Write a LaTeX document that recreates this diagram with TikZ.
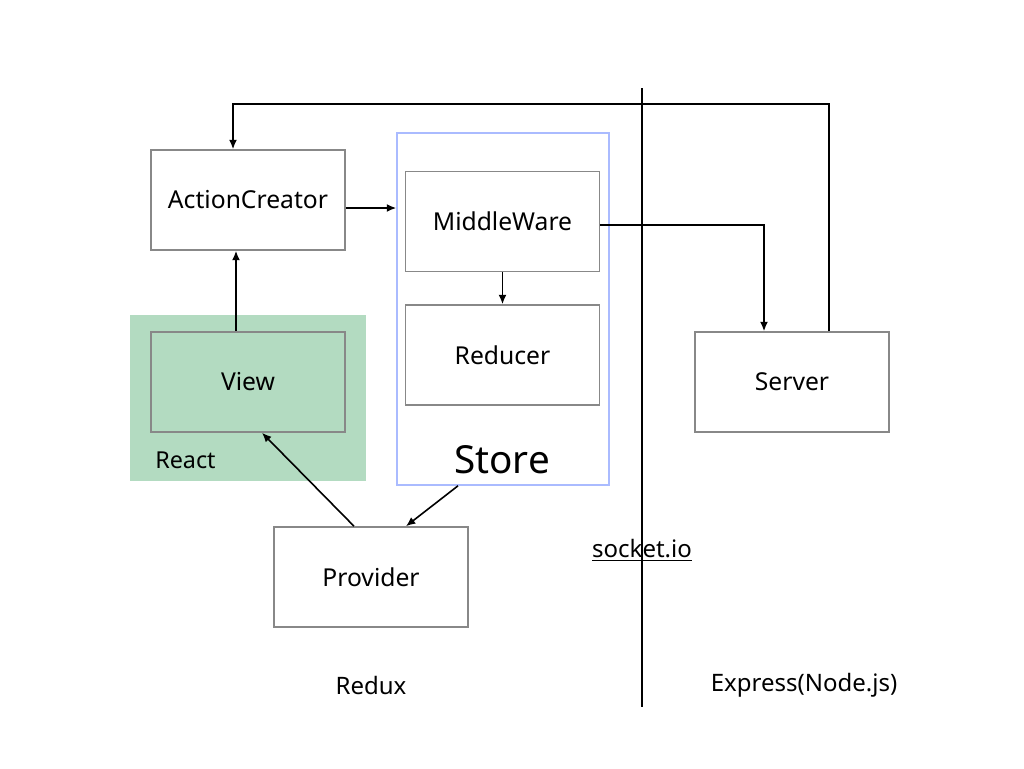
\documentclass[tikz,border=0pt]{standalone}
\usepackage{fontspec}
\setmainfont{Noto Sans}
\usetikzlibrary{
    arrows.meta,
    calc
}
\definecolor{boxgray}{HTML}{888888}
\definecolor{reactgreen}{HTML}{B3DBC1}
\definecolor{storeblue}{HTML}{AABBFF}
\tikzset {
    block/.style = {draw = boxgray, line width = 1.2pt, fill = white,
        minimum width = 145.5pt, minimum height = 75pt, inner sep = 0pt,
        font = \fontsize{18.5}{22}\selectfont},
    group/.style = {inner sep = 0pt},
    label text/.style = {inner sep = 0pt, font = \fontsize{18}{21}\selectfont},
    flow/.style = {line width = 1.2pt, arrows = {-Latex[length = 7pt, width = 6pt]}},
    wire/.style = {line width = 1.2pt}
}
\begin{document}
\begin{tikzpicture}[x = 0.75pt, y = -0.75pt]
            \useasboundingbox (0, 0) rectangle (1024, 768);
            % groups
            \node (react) [group, fill = reactgreen, minimum width = 177pt, minimum height = 124.5pt] at (248, 398) {};
            \node (store) [group, draw = storeblue, line width = 1.2pt, minimum width = 159pt, minimum height = 264pt] at (503, 309) {};
            % blocks
            \node (ac) [block] at (248, 200) {ActionCreator};
            \node (view) [block, fill = reactgreen] at (248, 382) {View};
            \node (mw) [block] at (502.5, 221.5) {MiddleWare};
            \node (red) [block] at (502.5, 355) {Reducer};
            \node (sv) [block] at (792, 382) {Server};
            \node (pr) [block] at (371, 577) {Provider};
            % labels
            \node (reactlbl) [label text, anchor = west, font = \fontsize{17.5}{21}\selectfont] at (155, 460) {React};
            \node (storelbl) [inner sep = 0pt, font = \fontsize{29}{34}\selectfont] at (502, 460) {Store};
            \node (sock) [label text] at (642, 550) {\underline{socket.io}};
            \node (redux) [label text] at (371, 685) {Redux};
            \node (expr) [label text] at (804, 685) {Express(Node.js)};
            % divider
            \coordinate (divtop) at (642, 88);
            \coordinate (divbot) at (642, 707);
            \draw [wire] (divtop) -- (divbot);
            % connectors
            \coordinate (ret) at (829, 104);
            \draw [flow] ([yshift = -6pt]ac.east) -- ([yshift = -6pt]ac.east -| store.west);
            \draw [flow] (mw.south) -- (red.north);
            \draw [flow] ([yshift = -2.5pt]mw.east) -| ([xshift = -21pt]sv.north);
            \draw [flow] ([xshift = 27.75pt]sv.north) -- (ret) -| ([xshift = -11.25pt]ac.north);
            \draw [flow] ([xshift = -9pt]view.north) -- ([xshift = -9pt]ac.south);
            \draw [flow] ([xshift = -33.75pt]store.south) -- ([xshift = 26.25pt]pr.north);
            \draw [flow] ([xshift = -12.75pt]pr.north) -- ([xshift = 10.5pt]view.south);
        \end{tikzpicture}
\end{document}
